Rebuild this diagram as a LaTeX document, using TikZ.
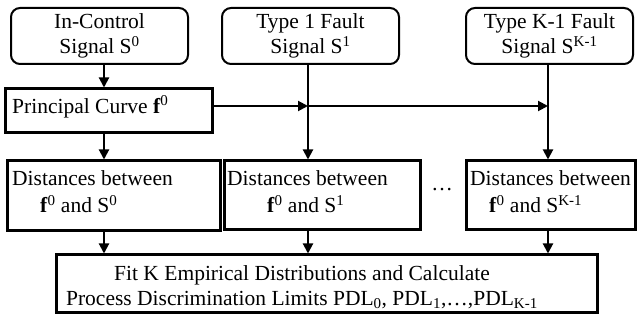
\documentclass[tikz,border=0pt]{standalone}
\usepackage{fontspec}
\setmainfont{Liberation Serif}
\usetikzlibrary{arrows.meta}

\begin{document}
\begin{tikzpicture}[x=1pt,y=-1pt,
  every node/.style={font=\fontsize{21.5}{25}\selectfont, inner sep=0pt},
  topbox/.style={draw, line width=2pt, rounded corners=9pt, align=center},
  sqbox/.style={draw, line width=3pt},
  txt/.style={anchor=west, align=left},
  arr/.style={line width=2pt, -{Triangle[length=10pt,width=10pt]}}]

\useasboundingbox (0,0) rectangle (637,320);

% signal sources
\node[topbox, minimum width=177pt, minimum height=56pt] (A) at (99.5,36)
  {In-Control\\Signal S\textsuperscript{0}};
\node[topbox, minimum width=177pt, minimum height=56pt] (B) at (310.5,36)
  {Type 1 Fault\\Signal S\textsuperscript{1}};
\node[topbox, minimum width=167pt, minimum height=56pt] (C) at (549.5,36)
  {Type K-1 Fault\\Signal S\textsuperscript{K-1}};

% principal curve
\node[sqbox, minimum width=207pt, minimum height=44pt] (PC) at (108.5,111) {};
\node[txt] (PCt) at (12,107) {Principal Curve \textbf{f}\textsuperscript{0}};

% distance boxes
\node[sqbox, minimum width=213pt, minimum height=70pt] (D0) at (113.5,196) {};
\node[sqbox, minimum width=195.5pt, minimum height=69pt] (D1) at (322.25,195.5) {};
\node[sqbox, minimum width=169pt, minimum height=69pt] (DK) at (550.5,195.5) {};

\node[txt] (D0a) at (12,178) {Distances between};
\node[txt] (D0b) at (40,204) {\textbf{f}\textsuperscript{0} and S\textsuperscript{0}};
\node[txt] (D1a) at (227,178) {Distances between};
\node[txt] (D1b) at (267,204) {\textbf{f}\textsuperscript{0} and S\textsuperscript{1}};
\node[txt] (DKa) at (470,178) {Distances between};
\node[txt] (DKb) at (489,204) {\textbf{f}\textsuperscript{0} and S\textsuperscript{K-1}};

\node (dots) at (442,190) {\ldots};

% limits
\node[sqbox, minimum width=541pt, minimum height=57pt] (F) at (326.5,283.5) {};
\node[align=center] (Ft) at (302,287)
  {Fit K Empirical Distributions and Calculate\\
   Process Discrimination Limits PDL\textsubscript{0}, PDL\textsubscript{1},\ldots,PDL\textsubscript{K-1}};

% column positions of the connectors
\coordinate (c1) at (104,0);
\coordinate (c2) at (308,0);
\coordinate (c3) at (548,0);
\coordinate (r1) at (0,106);

\draw[arr] (A.south -| c1) -- (PC.north -| c1);
\draw[arr] (PC.south -| c1) -- (D0.north -| c1);

\draw[arr] (PC.east |- r1) -- (r1 -| c2);
\draw[arr] (r1 -| c2) -- (r1 -| c3);

\draw[arr] (B.south -| c2) -- (D1.north -| c2);
\draw[arr] (C.south -| c3) -- (DK.north -| c3);

\draw[arr] (D0.south -| c1) -- (F.north -| c1);
\draw[arr] (D1.south -| c2) -- (F.north -| c2);
\draw[arr] (DK.south -| c3) -- (F.north -| c3);
\end{tikzpicture}
\end{document}
